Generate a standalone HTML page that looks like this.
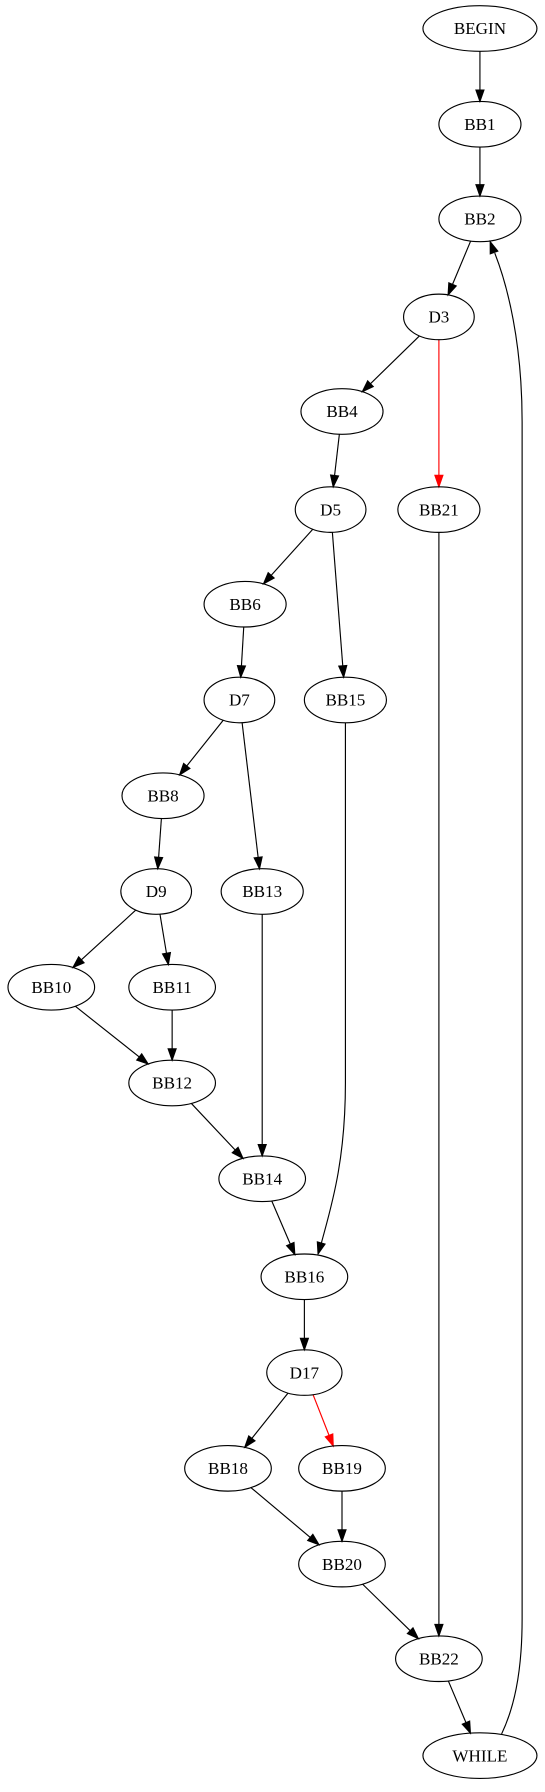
<!DOCTYPE html>
<html><head><meta charset="utf-8"><style>
html,body{margin:0;padding:0;background:#fff;}
svg text{font-family:"Liberation Serif",serif;font-size:15px;}
</style></head><body>
<svg id="s" width="545" height="1787" viewBox="0 0 545 1787" xmlns="http://www.w3.org/2000/svg">
<g transform="scale(1.14)"><g id="e"></g><g id="n"></g></g>
</svg>
<script>
var N={BEGIN:[421,25,50],BB1:[421,109,36],BB2:[421,192,36],D3:[385,278,31],BB4:[300,361,36],D5:[290,447,31],BB21:[385,447,36],BB6:[215,530,36],D7:[210,614,31],BB15:[303,614,36],BB8:[143,698,36],D9:[137,782,31],BB13:[230,782,36],BB10:[45,866,38],BB11:[151,866,38],BB12:[151,950,38],BB14:[230,1034,38],BB16:[267,1120,38],D17:[267,1204,33],BB18:[200,1288,38],BB19:[300,1288,38],BB20:[300,1372,38],BB22:[385,1455,38],WHILE:[421,1540,50]};
var RY=20,ns="http://www.w3.org/2000/svg";
function el(t,a,p){var x=document.createElementNS(ns,t);for(var k in a)x.setAttribute(k,a[k]);p.appendChild(x);return x;}
var G=document.getElementById('e'),H=document.getElementById('n');
function clip(c,dx,dy){var rx=c[2],t=1/Math.sqrt(dx*dx/(rx*rx)+dy*dy/(RY*RY));return [c[0]+dx*t,c[1]+dy*t];}
function arrow(tip,fx,fy,col){var dx=tip[0]-fx,dy=tip[1]-fy,L=Math.hypot(dx,dy);dx/=L;dy/=L;var bx=tip[0]-dx*10,by=tip[1]-dy*10,px=-dy*3.5,py=dx*3.5;
el('polygon',{points:tip[0]+','+tip[1]+' '+(bx+px)+','+(by+py)+' '+(bx-px)+','+(by-py),fill:col,stroke:col},G);return [bx,by];}
function E(a,b,col){col=col||'#000';var A=N[a],B=N[b];var s=clip(A,B[0]-A[0],B[1]-A[1]);var t=clip(B,A[0]-B[0],A[1]-B[1]);var base=arrow(t,s[0],s[1],col);
el('line',{x1:s[0],y1:s[1],x2:base[0],y2:base[1],stroke:col},G);}
[['BEGIN','BB1'],['BB1','BB2'],['BB2','D3'],['D3','BB4'],['D3','BB21','red'],['BB4','D5'],['D5','BB6'],['D5','BB15'],['BB6','D7'],['D7','BB8'],['D7','BB13'],['BB8','D9'],['D9','BB10'],['D9','BB11'],['BB10','BB12'],['BB11','BB12'],['BB12','BB14'],['BB13','BB14'],['BB14','BB16'],['BB16','D17'],['D17','BB18'],['D17','BB19','red'],['BB18','BB20'],['BB19','BB20'],['BB20','BB22'],['BB21','BB22'],['BB22','WHILE']].forEach(function(e){E(e[0],e[1],e[2]);});
el('path',{d:'M303,634 L303,950 C303,1020 290,1060 282,1090',fill:'none',stroke:'#000'},G);
arrow([279,1100],283,1086,'#000');
el('path',{d:'M440,1521 C450,1500 458,1470 458,1420 L458,370 C458,300 445,250 434,222',fill:'none',stroke:'#000'},G);
arrow([430,212],435,226,'#000');
for(var k in N){var c=N[k];el('ellipse',{cx:c[0],cy:c[1],rx:c[2],ry:RY,fill:'none',stroke:'#000'},H);var t=el('text',{x:c[0],y:c[1]+5,'text-anchor':'middle'},H);t.textContent=k;}
</script>
</body></html>
